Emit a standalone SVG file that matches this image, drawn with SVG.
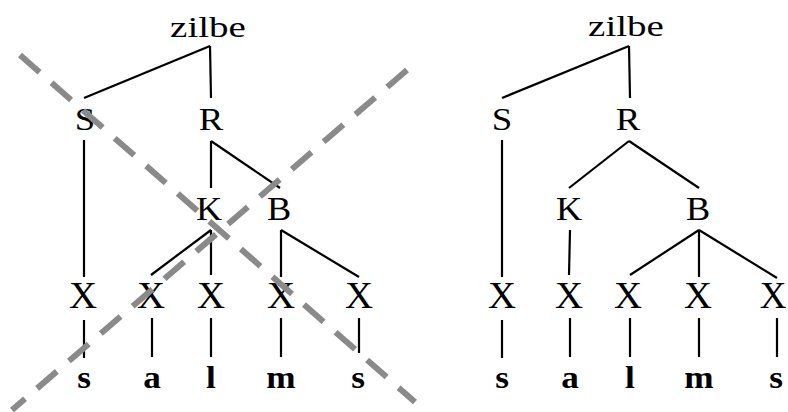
<svg xmlns="http://www.w3.org/2000/svg" width="788" height="412" viewBox="0 0 788 412">
<style>
.t{font-family:"Liberation Serif","Times New Roman",serif;fill:#000;text-anchor:middle}
.z{font-size:30px}
.m{font-size:32px}
.k{font-size:33px}
.x{font-size:37px}
.b{font-size:32px;font-weight:bold}
.e line{stroke:#000;stroke-width:2.2;stroke-linecap:butt}
.d{stroke:#8a8a8a;stroke-width:6;stroke-dasharray:26 16;fill:none}
</style>
<rect width="788" height="412" fill="#fff"/>
<g class="e" id="connectors">
<line x1="210" y1="46" x2="84" y2="98"/>
<line x1="210" y1="46" x2="211" y2="98"/>
<line x1="84" y1="140" x2="84" y2="277"/>
<line x1="211" y1="141" x2="211" y2="188"/>
<line x1="211" y1="141" x2="280" y2="188"/>
<line x1="211" y1="230" x2="151" y2="275"/>
<line x1="211" y1="230" x2="211" y2="275"/>
<line x1="281" y1="230" x2="281" y2="277"/>
<line x1="281" y1="230" x2="359" y2="277"/>
<line x1="84" y1="320" x2="84" y2="358"/>
<line x1="152" y1="318" x2="152" y2="357"/>
<line x1="211" y1="318" x2="211" y2="357"/>
<line x1="281" y1="318" x2="281" y2="357"/>
<line x1="359" y1="318" x2="359" y2="353"/>
<line x1="629" y1="46" x2="502" y2="98"/>
<line x1="629" y1="46" x2="630" y2="98"/>
<line x1="502" y1="140" x2="502" y2="277"/>
<line x1="629" y1="141" x2="569" y2="188"/>
<line x1="629" y1="141" x2="699" y2="188"/>
<line x1="570" y1="230" x2="569" y2="275"/>
<line x1="699" y1="230" x2="630" y2="275"/>
<line x1="699" y1="230" x2="699" y2="277"/>
<line x1="699" y1="230" x2="777" y2="278"/>
<line x1="502" y1="320" x2="502" y2="358"/>
<line x1="570" y1="318" x2="570" y2="357"/>
<line x1="630" y1="318" x2="630" y2="357"/>
<line x1="699" y1="318" x2="699" y2="357"/>
<line x1="777" y1="318" x2="777" y2="357"/>
</g>
<g id="left-zilbe"><text class="t z" transform="translate(208,37) scale(1.3,1)">zilbe</text></g>
<g id="left-S"><text class="t m" transform="translate(85,130) scale(1.15,1)">S</text></g>
<g id="left-R"><text class="t m" transform="translate(211,130) scale(1.15,1)">R</text></g>
<g id="left-K"><text class="t k" transform="translate(209,220) scale(1.1,1)">K</text></g>
<g id="left-B"><text class="t k" transform="translate(279,220) scale(1.1,1)">B</text></g>
<g id="left-X1"><text class="t x" transform="translate(83,308) scale(1.05,1)">X</text></g>
<g id="left-X2"><text class="t x" transform="translate(151,308) scale(1.05,1)">X</text></g>
<g id="left-X3"><text class="t x" transform="translate(211,308) scale(1.05,1)">X</text></g>
<g id="left-X4"><text class="t x" transform="translate(281,308) scale(1.05,1)">X</text></g>
<g id="left-X5"><text class="t x" transform="translate(359,308) scale(1.05,1)">X</text></g>
<g id="left-s1"><text class="t b" transform="translate(84,388) scale(1.1,1)">s</text></g>
<g id="left-a"><text class="t b" transform="translate(152,388) scale(1.1,1)">a</text></g>
<g id="left-l"><text class="t b" transform="translate(211,388) scale(1.1,1)">l</text></g>
<g id="left-m"><text class="t b" transform="translate(281,388) scale(1.1,1)">m</text></g>
<g id="left-s2"><text class="t b" transform="translate(358,388) scale(1.1,1)">s</text></g>
<g id="right-zilbe"><text class="t z" transform="translate(626,36) scale(1.3,1)">zilbe</text></g>
<g id="right-S"><text class="t m" transform="translate(502,130) scale(1.15,1)">S</text></g>
<g id="right-R"><text class="t m" transform="translate(628,130) scale(1.15,1)">R</text></g>
<g id="right-K"><text class="t k" transform="translate(569,220) scale(1.1,1)">K</text></g>
<g id="right-B"><text class="t k" transform="translate(698,220) scale(1.1,1)">B</text></g>
<g id="right-X1"><text class="t x" transform="translate(502,308) scale(1.05,1)">X</text></g>
<g id="right-X2"><text class="t x" transform="translate(569,308) scale(1.05,1)">X</text></g>
<g id="right-X3"><text class="t x" transform="translate(628,308) scale(1.05,1)">X</text></g>
<g id="right-X4"><text class="t x" transform="translate(698,308) scale(1.05,1)">X</text></g>
<g id="right-X5"><text class="t x" transform="translate(773,308)">X</text></g>
<g id="right-s1"><text class="t b" transform="translate(502,388) scale(1.1,1)">s</text></g>
<g id="right-a"><text class="t b" transform="translate(570,388) scale(1.1,1)">a</text></g>
<g id="right-l"><text class="t b" transform="translate(630,388) scale(1.1,1)">l</text></g>
<g id="right-m"><text class="t b" transform="translate(699,388) scale(1.1,1)">m</text></g>
<g id="right-s2"><text class="t b" transform="translate(776,388) scale(1.1,1)">s</text></g>
<g id="cross">
<line class="d" x1="20" y1="55" x2="415" y2="402"/>
<line class="d" x1="407" y1="70" x2="12" y2="410"/>
</g>
</svg>
